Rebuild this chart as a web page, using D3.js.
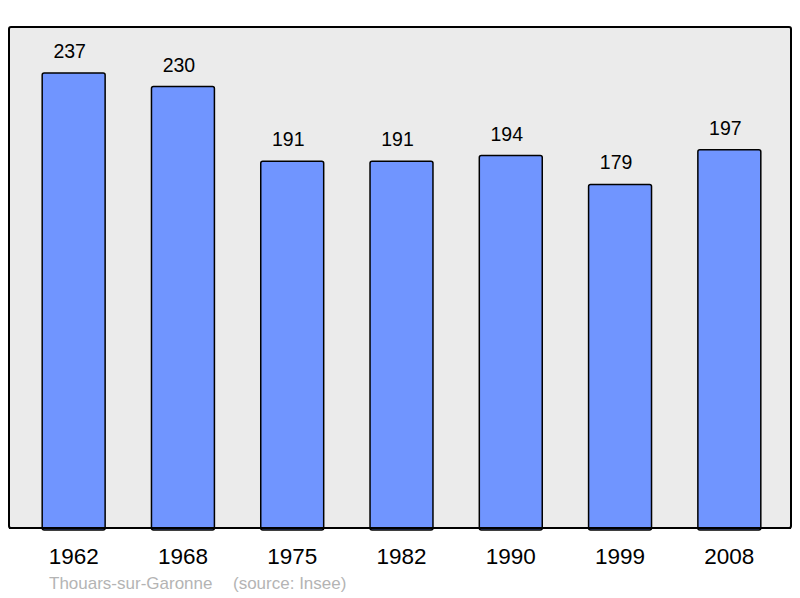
<!DOCTYPE html>
<html>
<head>
<meta charset="utf-8">
<script src="https://cdn.jsdelivr.net/npm/d3@7"></script>
<style>
  body { margin: 0; background: #fff; }
  text { font-family: "Liberation Sans", Arial, sans-serif; }
</style>
</head>
<body>
<svg id="chart" width="800" height="598"></svg>
<script>
var years = ["1962", "1968", "1975", "1982", "1990", "1999", "2008"];
var population = [237, 230, 191, 191, 194, 179, 197];
var town = "Thouars-sur-Garonne";
var source = "(source: Insee)";

var svg = d3.select("svg#chart"),
  panel = {left: 9, top: 27, right: 791, bottom: 528};

var x = d3.scaleBand()
  .domain(years)
  .range([panel.left + 1.5, panel.right + 1.5])
  .paddingInner(0.424)
  .paddingOuter(0.29);

var y = d3.scaleLinear()
  .domain([0, 261])
  .range([panel.bottom, panel.top]);

// background panel
svg.append("rect")
  .attr("x", panel.left).attr("y", panel.top)
  .attr("width", panel.right - panel.left)
  .attr("height", panel.bottom - panel.top)
  .attr("rx", 2)
  .attr("fill", "#ebebeb")
  .attr("stroke", "#000")
  .attr("stroke-width", 2);

var data = years.map(function(d, i){ return {year: d, value: population[i]}; });

svg.selectAll("rect.bar")
  .data(data)
  .enter()
  .append("rect")
  .attr("class", "bar")
  .attr("x", function(d){ return x(d.year); })
  .attr("y", function(d){ return y(d.value); })
  .attr("width", x.bandwidth())
  .attr("height", function(d){ return y(0) - y(d.value) + 2; })
  .attr("rx", 2)
  .attr("fill", "#7095ff")
  .attr("stroke", "#000")
  .attr("stroke-width", 1.5);

// redraw bottom edge over bars
svg.append("line")
  .attr("x1", panel.left).attr("x2", panel.right)
  .attr("y1", panel.bottom).attr("y2", panel.bottom)
  .attr("stroke", "#000").attr("stroke-width", 2);

// value labels sit a bit left of bar centre, like the original
svg.selectAll("text.val")
  .data(data)
  .enter()
  .append("text")
  .attr("class", "val")
  .attr("x", function(d){ return x(d.year) + x.bandwidth() / 2 - 4; })
  .attr("y", function(d){ return y(d.value) - 15; })
  .attr("text-anchor", "middle")
  .style("font-size", "19.5px")
  .text(function(d){ return d.value; });

// x axis labels
var xAxis = d3.axisBottom(x).tickSize(0).tickPadding(0);
var ax = svg.append("g")
  .attr("transform", "translate(0," + panel.bottom + ")")
  .call(xAxis);
ax.select(".domain").remove();
ax.selectAll(".tick text")
  .attr("y", 36)
  .attr("dy", 0)
  .style("font-size", "22.5px")
  .style("font-family", "'Liberation Sans', Arial, sans-serif")
  .attr("fill", "#000");

svg.append("text")
  .attr("x", 49).attr("y", 589)
  .style("font-size", "17px")
  .attr("fill", "#b4b4b4")
  .text(town);

svg.append("text")
  .attr("x", 233).attr("y", 589)
  .style("font-size", "17px")
  .attr("fill", "#b4b4b4")
  .text(source);
</script>
</body>
</html>
